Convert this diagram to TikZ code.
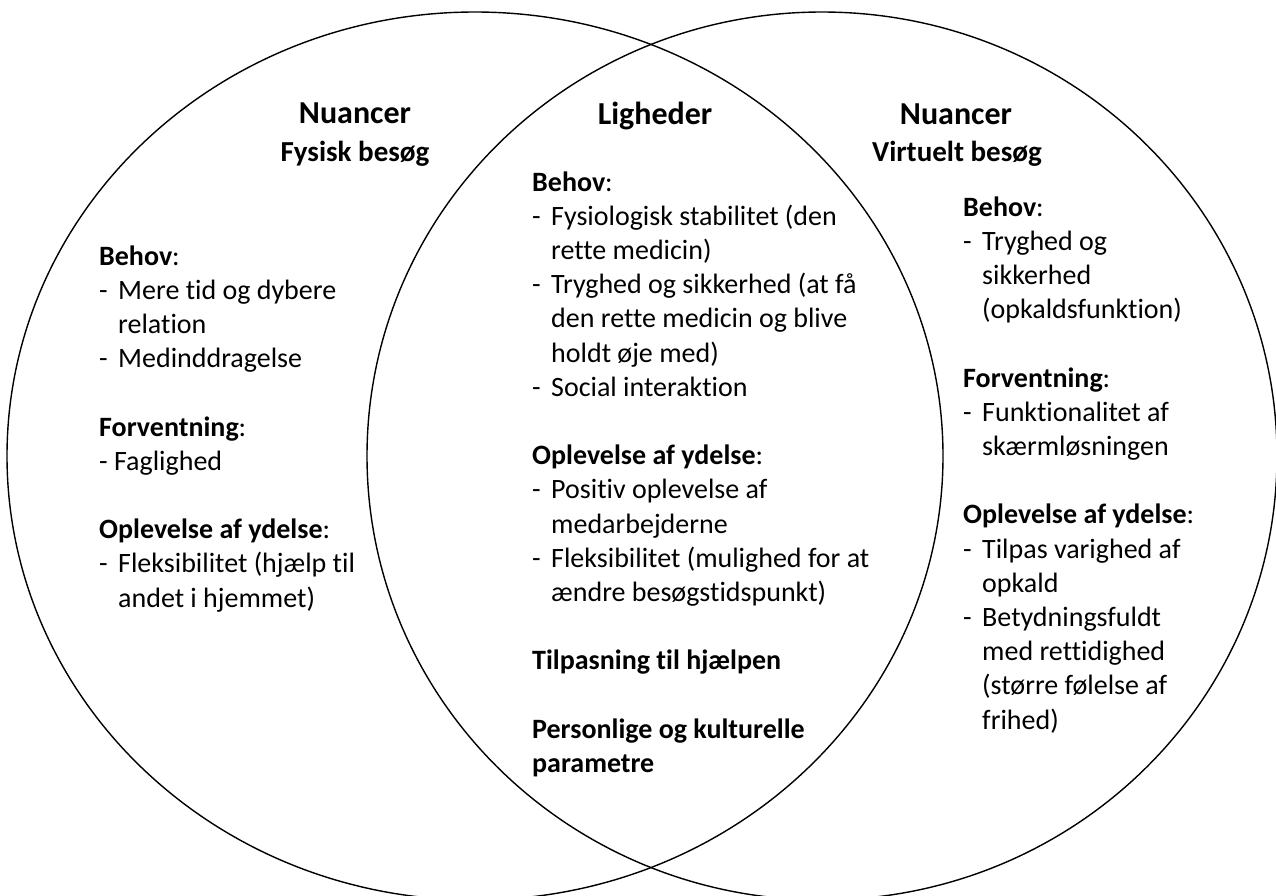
\documentclass[tikz,border=0pt]{standalone}
\usepackage{fontspec}
\setmainfont{Carlito}[Ligatures=NoCommon]
% list helpers: a hyphen bullet with hanging indent, and a continuation line
\newcommand\venndash[1]{\makebox[19pt][l]{-}#1}
\newcommand\venncont[1]{\hspace*{19pt}#1}
\newcommand\vennhead[1]{\textbf{#1}}
\begin{document}
\begin{tikzpicture}[x=1pt,y=-1pt,
  venn/.style={line width=1.4pt},
  titletext/.style={font=\fontsize{32}{36}\selectfont\bfseries, anchor=base, inner sep=0pt},
  subtitletext/.style={font=\fontsize{29}{32}\selectfont\bfseries, anchor=base, inner sep=0pt},
  bodytext/.style={font=\fontsize{28}{34.2}\selectfont, anchor=base west, inner sep=0pt}]
\useasboundingbox (0,0) rectangle (1276,895);

% the two overlapping sets
\begin{scope}
  \clip (0,0) rectangle (1276,895);
  \draw[venn] (475,456) ellipse [x radius=468, y radius=444];
  \draw[venn] (822,456) ellipse [x radius=455, y radius=444];
\end{scope}

% headings
\node[titletext] (lefttitle) at (355,123) {Nuancer};
\node[subtitletext] (leftsub) at (355,161) {Fysisk besøg};
\node[titletext] (midtitle) at (655,124) {Ligheder};
\node[titletext] (righttitle) at (956,124) {Nuancer};
\node[subtitletext] (rightsub) at (957,161) {Virtuelt besøg};

% left set: physical visit
\node[bodytext] (leftcol) at (99,265) {\begin{tabular}[t]{@{}l@{}}
\vennhead{Behov}:\\
\venndash{Mere tid og dybere}\\
\venncont{relation}\\
\venndash{Medinddragelse}\\
\\
\vennhead{Forventning}:\\
- Faglighed\\
\\
\vennhead{Oplevelse af ydelse}:\\
\venndash{Fleksibilitet (hjælp til}\\
\venncont{andet i hjemmet)}
\end{tabular}};

% overlap: similarities
\node[bodytext] (midcol) at (532,191) {\begin{tabular}[t]{@{}l@{}}
\vennhead{Behov}:\\
\venndash{Fysiologisk stabilitet (den}\\
\venncont{rette medicin)}\\
\venndash{Tryghed og sikkerhed (at få}\\
\venncont{den rette medicin og blive}\\
\venncont{holdt øje med)}\\
\venndash{Social interaktion}\\
\\
\vennhead{Oplevelse af ydelse}:\\
\venndash{Positiv oplevelse af}\\
\venncont{medarbejderne}\\
\venndash{Fleksibilitet (mulighed for at}\\
\venncont{ændre besøgstidspunkt)}\\
\\
\vennhead{Tilpasning til hjælpen}\\
\\
\vennhead{Personlige og kulturelle}\\
\vennhead{parametre}
\end{tabular}};

% right set: virtual visit
\node[bodytext] (rightcol) at (963,216) {\begin{tabular}[t]{@{}l@{}}
\vennhead{Behov}:\\
\venndash{Tryghed og}\\
\venncont{sikkerhed}\\
\venncont{(opkaldsfunktion)}\\
\\
\vennhead{Forventning}:\\
\venndash{Funktionalitet af}\\
\venncont{skærmløsningen}\\
\\
\vennhead{Oplevelse af ydelse}:\\
\venndash{Tilpas varighed af}\\
\venncont{opkald}\\
\venndash{Betydningsfuldt}\\
\venncont{med rettidighed}\\
\venncont{(større følelse af}\\
\venncont{frihed)}
\end{tabular}};
\end{tikzpicture}
\end{document}
